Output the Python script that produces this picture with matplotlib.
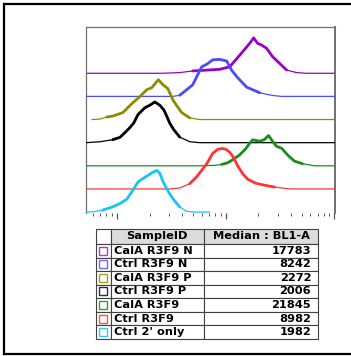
import numpy as np
import matplotlib
matplotlib.use("Agg")
import matplotlib.pyplot as plt
from matplotlib.ticker import LogLocator, NullFormatter
from matplotlib.lines import Line2D

# ---------------- data ----------------
samples = ["CalA R3F9 N", "Ctrl R3F9 N", "CalA R3F9 P", "Ctrl R3F9 P",
           "CalA R3F9", "Ctrl R3F9", "Ctrl 2' only"]
medians = [17783, 8242, 2272, 2006, 21845, 8982, 1982]
table_header = ["SampleID", "Median : BL1-A"]

line_colors = ["#9a00c8", "#4a4aff", "#8c8c00", "#000000",
               "#1a8c1a", "#ff3535", "#18c4f0"]
swatch_colors = ["#c030d0", "#6a6aff", "#a0a020", "#303030",
                 "#30a030", "#ff5050", "#30ccf0"]

# histogram knots: log10(BL1-A) and count (normalised, 100 = one stacking step)
calA_N_log = [2.697, 3.422, 3.578, 3.697, 3.945, 4.037, 4.083, 4.156, 4.220,
              4.257, 4.294, 4.330, 4.376, 4.431, 4.495, 4.560, 4.651, 4.743, 5.018]
calA_N_cnt = [0, 0, 3, 10, 17, 28, 53, 93, 129, 153, 129, 122, 108, 72, 43,
              14, 3, 0, 0]

ctrl_N_log = [2.697, 3.514, 3.578, 3.642, 3.697, 3.743, 3.780, 3.826, 3.881,
              3.945, 4.009, 4.055, 4.110, 4.193, 4.312, 4.431, 4.514, 5.018]
ctrl_N_cnt = [0, 0, 5, 29, 50, 94, 128, 139, 158, 160, 153, 113, 81, 40, 16,
              4, 0, 0]

calA_P_log = [2.771, 2.844, 2.908, 2.963, 3.055, 3.147, 3.211, 3.275, 3.321,
              3.381, 3.422, 3.468, 3.514, 3.550, 3.596, 3.670, 3.761, 5.018]
calA_P_cnt = [0, 2, 11, 15, 30, 73, 99, 129, 138, 172, 151, 134, 86, 60, 30,
              7, 0, 0]

ctrl_P_log = [2.716, 2.844, 2.963, 3.028, 3.073, 3.119, 3.156, 3.193, 3.257,
              3.303, 3.349, 3.394, 3.431, 3.459, 3.486, 3.523, 3.578, 3.670,
              3.761, 5.018]
ctrl_P_cnt = [0, 4, 13, 23, 43, 65, 86, 121, 151, 162, 176, 162, 142, 114, 84,
              56, 24, 4, 0, 0]

calA_log = [2.697, 3.761, 3.899, 3.963, 4.018, 4.064, 4.128, 4.183, 4.220,
            4.248, 4.275, 4.312, 4.358, 4.394, 4.431, 4.468, 4.514, 4.569,
            4.633, 4.706, 4.817, 5.018]
calA_cnt = [0, 0, 2, 6, 13, 26, 47, 73, 97, 112, 110, 106, 114, 131, 106, 84,
            76, 47, 20, 9, 0, 0]

ctrl_log = [2.697, 3.486, 3.578, 3.670, 3.734, 3.780, 3.826, 3.881, 3.927,
            3.963, 4.000, 4.037, 4.073, 4.110, 4.156, 4.202, 4.275, 4.358,
            4.450, 4.587, 5.018]
ctrl_cnt = [0, 0, 4, 23, 53, 81, 109, 154, 171, 175, 172, 159, 135, 100, 66,
            42, 25, 16, 8, 0, 0]

ctrl2_log = [2.716, 2.780, 2.872, 2.963, 3.028, 3.092, 3.147, 3.193, 3.239,
             3.284, 3.330, 3.367, 3.394, 3.422, 3.459, 3.514, 3.578, 3.642,
             3.716, 3.853]
ctrl2_cnt = [0, 1, 9, 23, 37, 56, 95, 129, 145, 158, 172, 180, 168, 134, 99,
             58, 22, 3, 0, 0]

series_log = [calA_N_log, ctrl_N_log, calA_P_log, ctrl_P_log,
              calA_log, ctrl_log, ctrl2_log]
series_cnt = [calA_N_cnt, ctrl_N_cnt, calA_P_cnt, ctrl_P_cnt,
              calA_cnt, ctrl_cnt, ctrl2_cnt]

# ---------------- figure ----------------
W, H = 351, 356
fig = plt.figure(figsize=(W / 100, H / 100), dpi=100)
fig.patch.set_facecolor("white")

def fx(px):
    return px / W

def fy(py):
    return 1 - py / H

# outer frame (left, top, bottom; right runs off the picture)
for xs, ys in [([4, 4], [4, 354]), ([4, 360], [4, 4]), ([4, 360], [354, 354])]:
    fig.add_artist(Line2D([fx(v) for v in xs], [fy(v) for v in ys],
                          color="black", lw=1.6, solid_capstyle="projecting"))

ax = fig.add_axes([fx(86), fy(213), fx(335) - fx(86), (213 - 27) / H])
ax.set_xscale("log")
step = 100
n = len(samples)
for i in range(n):
    off = (n - 1 - i) * step
    lg = np.array(series_log[i])
    ct = np.array(series_cnt[i], dtype=float)
    x = 10 ** lg
    y = ct + off
    # thin baseline over the whole range
    ax.plot(x, y, color=line_colors[i], lw=0.9, zorder=2 + i, clip_on=True)
    # thicker trace over the populated part
    nz = np.nonzero(ct >= 5)[0]
    a = nz[0]
    b = nz[-1] + 1
    ax.plot(x[a:b], y[a:b], color=line_colors[i], lw=2.0,
            solid_joinstyle="round", solid_capstyle="round",
            zorder=2.5 + i, clip_on=True)

ax.set_xlim(10 ** 2.716, 10 ** 5.005)
ax.set_ylim(-4, 800)
ax.set_yticks([])
ax.xaxis.set_major_locator(LogLocator(base=10, numticks=10))
ax.xaxis.set_minor_locator(LogLocator(base=10, subs=np.arange(2, 10), numticks=20))
ax.xaxis.set_major_formatter(NullFormatter())
ax.xaxis.set_minor_formatter(NullFormatter())
ax.tick_params(axis="x", which="major", direction="out", length=4.5, width=0.9,
               color="#555555")
ax.tick_params(axis="x", which="minor", direction="out", length=2.2, width=0.7,
               color="#555555")
for s in ["left", "top", "right"]:
    ax.spines[s].set_color("#707070")
    ax.spines[s].set_linewidth(0.9)
ax.spines["right"].set_linewidth(1.4)
ax.spines["bottom"].set_visible(False)

# ---------------- table ----------------
tl, tr, tt, tb = 96, 318, 229, 339
tax = fig.add_axes([fx(tl), fy(tb), fx(tr) - fx(tl), (tb - tt) / H])
tax.set_xlim(0, tr - tl)
tax.set_ylim(tb - tt, 0)
tax.axis("off")

cell_text = [["", table_header[0], table_header[1]]]
for s, m in zip(samples, medians):
    cell_text.append(["", s, str(m)])
col_w = [14.7, 93.3, 114.0]
tbl = tax.table(cellText=cell_text, colWidths=[c / sum(col_w) for c in col_w],
                bbox=[0, 0, 1, 1], cellLoc="left")
tbl.auto_set_font_size(False)
for (r, c), cell in tbl.get_celld().items():
    cell.set_edgecolor("#404040")
    cell.set_linewidth(0.8)
    cell.set_height(15.0 if r == 0 else 13.6)
    t = cell.get_text()
    t.set_fontsize(8.2)
    t.set_fontweight("bold")
    t.set_fontfamily("DejaVu Sans")
    if r == 0:
        cell.set_facecolor("#dcdcdc" if c > 0 else "white")
        t.set_horizontalalignment("center")
        cell._loc = "center"
    else:
        if c == 2:
            cell._loc = "right"
            t.set_horizontalalignment("right")
            cell.PAD = 0.06
        elif c == 1:
            cell._loc = "left"
            cell.PAD = 0.035

# colour swatches
row_h0 = 15.0
row_h = 13.6
total_h = row_h0 + row_h * n
for i in range(n):
    yc = (row_h0 + row_h * (i + 0.5)) / total_h * (tb - tt)
    tax.plot([col_w[0] / 2], [yc], marker="s", ms=6.2, mfc="none",
             mec=swatch_colors[i], mew=1.0, zorder=5, clip_on=False)

fig.savefig("out.png", dpi=100, facecolor="white")
